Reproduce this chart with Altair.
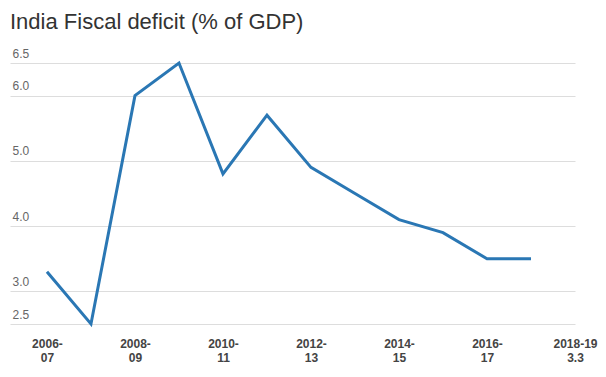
import json
import altair as alt
import pandas as pd

years = ["2006-07", "2007-08", "2008-09", "2009-10", "2010-11", "2011-12",
         "2012-13", "2013-14", "2014-15", "2015-16", "2016-17", "2017-18"]
deficit = [3.3, 2.5, 6.0, 6.5, 4.8, 5.7, 4.9, 4.5, 4.1, 3.9, 3.5, 3.5]
tick_positions = [0, 2, 4, 6, 8, 10, 12]
tick_labels = ["2006-|07", "2008-|09", "2010-|11", "2012-|13", "2014-|15",
               "2016-|17", "2018-19|3.3"]
y_ticks = [2.5, 3.0, 4.0, 5.0, 6.0, 6.5]

df = pd.DataFrame({"i": list(range(len(years))), "year": years, "deficit": deficit})

label_expr = f"split({json.dumps(tick_labels)}[round(datum.value / 2)], '|')"

font = "Liberation Sans"

chart = alt.Chart(df).mark_line(color="#2a77b4", strokeWidth=3).encode(
    x=alt.X("i:Q",
            scale=alt.Scale(domain=[-0.84, 12], nice=False, zero=False),
            axis=alt.Axis(values=tick_positions, labelExpr=label_expr, grid=False,
                          domain=False, ticks=False, labelFont=font,
                          labelFontWeight="bold", labelFontSize=12,
                          labelColor="#444444", labelPadding=14,
                          labelLineHeight=14, labelFlush=False,
                          labelOverlap=False, title=None)),
    y=alt.Y("deficit:Q",
            scale=alt.Scale(domain=[2.5, 6.5], nice=False, zero=False),
            axis=alt.Axis(values=y_ticks, format=".1f", grid=True,
                          gridColor="#dddddd", domain=False, ticks=False,
                          labelAlign="left", labelBaseline="bottom",
                          labelPadding=-2, labelOffset=-3, labelFont=font,
                          labelFontSize=12, labelColor="#666666",
                          labelFlush=False, labelOverlap=False, title=None)),
).properties(
    width=565,
    height=261,
    autosize="none",
    padding={"left": 2, "top": 55, "right": 23, "bottom": 45},
    title=alt.TitleParams("India Fiscal deficit (% of GDP)", anchor="start",
                          font=font, fontSize=22, fontWeight="normal",
                          color="#333333", offset=13),
).configure_view(stroke=None)

chart.save("out.html", embed_options={"renderer": "svg", "actions": False})
